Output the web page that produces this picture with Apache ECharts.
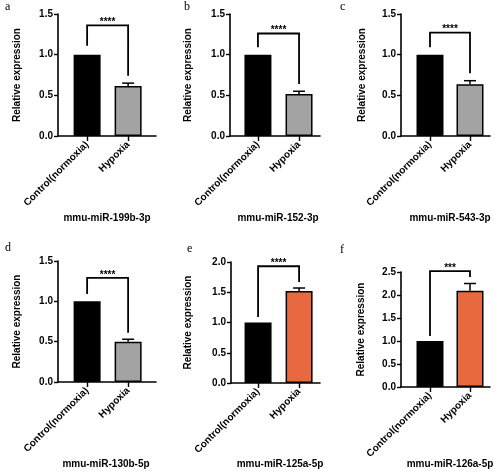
<!DOCTYPE html>
<html>
<head>
<meta charset="utf-8">
<script src="https://cdn.jsdelivr.net/npm/echarts@6/dist/echarts.min.js"></script>
<style>
html,body{margin:0;padding:0;background:#fff;}
#chart{width:500px;height:473px;}
</style>
</head>
<body>
<div id="chart"></div>
<script>
// ---- data ----
const panelLetters = ['a', 'b', 'c', 'd', 'e', 'f'];
const genes = ['mmu-miR-199b-3p', 'mmu-miR-152-3p', 'mmu-miR-543-3p', 'mmu-miR-130b-5p', 'mmu-miR-125a-5p', 'mmu-miR-126a-5p'];
const categories = ['Control(normoxia)', 'Hypoxia'];
const controlValues = [1, 1, 1, 1, 1, 1];
const hypoxiaValues = [0.615, 0.515, 0.635, 0.50, 1.52, 2.09];
const hypoxiaErrors = [0.035, 0.035, 0.045, 0.03, 0.05, 0.16];
const yMax = [1.5, 1.5, 1.5, 1.5, 2.0, 2.5];
const yInterval = [0.5, 0.5, 0.5, 0.5, 0.5, 0.5];
const significance = ['****', '****', '****', '****', '****', '***'];
const bracketTop = [1.36, 1.26, 1.27, 1.29, 1.93, 2.52];
const bracketLeftBase = [1.11, 1.09, 1.09, 1.09, 1.09, 1.11];
const bracketRightBase = [0.74, 0.64, 0.77, 0.61, 1.67, 2.39];
const hypoxiaColors = ['#a3a3a3', '#a3a3a3', '#a3a3a3', '#a3a3a3', '#e8693f', '#e8693f'];

// ---- layout (pixels / axis extents) ----
const layout = [
  {left: 58,  width: 98, top: 14,  height: 122, xMin: -0.71, xMax: 1.68, nameGap: 36, letterX: 5,   letterY: 1,   titleX: 107, titleY: 213},
  {left: 230, width: 90, top: 14,  height: 122, xMin: -0.68, xMax: 1.51, nameGap: 37, letterX: 184, letterY: 1,   titleX: 278, titleY: 213},
  {left: 401, width: 89, top: 14,  height: 122, xMin: -0.725, xMax: 1.5, nameGap: 34, letterX: 340, letterY: 1,   titleX: 450, titleY: 213},
  {left: 58,  width: 98, top: 261, height: 121, xMin: -0.71, xMax: 1.68, nameGap: 36, letterX: 5,   letterY: 242, titleX: 106, titleY: 459},
  {left: 231, width: 89, top: 262, height: 121, xMin: -0.66, xMax: 1.51, nameGap: 38, letterX: 187, letterY: 243, titleX: 280, titleY: 459},
  {left: 401, width: 89, top: 272, height: 115, xMin: -0.725, xMax: 1.5, nameGap: 35, letterX: 340, letterY: 244, titleX: 450, titleY: 459}
];

const FONT = '"Liberation Sans", Arial, sans-serif';
const grids = [], xAxes = [], yAxes = [], series = [], titles = [];

layout.forEach((L, i) => {
  grids.push({left: L.left, top: L.top, width: L.width, height: L.height, containLabel: false});
  xAxes.push({
    type: 'value', gridIndex: i, min: L.xMin, max: L.xMax,
    splitLine: {show: false},
    axisLine: {show: true, lineStyle: {color: '#000', width: 1.6}},
    axisTick: {show: true, customValues: [0, 1], length: 5, lineStyle: {color: '#000', width: 1.4}},
    axisLabel: {
      customValues: [0, 1], rotate: 45, margin: 7,
      formatter: v => categories[Math.round(v)],
      color: '#000', fontWeight: 'bold', fontSize: 10, fontFamily: FONT
    }
  });
  yAxes.push({
    type: 'value', gridIndex: i, min: 0, max: yMax[i], interval: yInterval[i],
    name: 'Relative expression', nameLocation: 'middle', nameGap: L.nameGap,
    nameTextStyle: {color: '#000', fontWeight: 'bold', fontSize: 10, fontFamily: FONT},
    splitLine: {show: false},
    axisLine: {show: true, onZero: false, lineStyle: {color: '#000', width: 1.6}},
    axisTick: {show: true, length: 4, lineStyle: {color: '#000', width: 1.4}},
    axisLabel: {
      margin: 5, color: '#000', fontWeight: 'bold', fontSize: 10, fontFamily: FONT,
      formatter: v => v.toFixed(1)
    }
  });
  series.push({
    type: 'bar', xAxisIndex: i, yAxisIndex: i, barWidth: 27, silent: true,
    itemStyle: {borderColor: '#000', borderWidth: 1.5},
    data: [
      {value: [0, controlValues[i]], itemStyle: {color: '#000'}},
      {value: [1, hypoxiaValues[i]], itemStyle: {color: hypoxiaColors[i]}}
    ]
  });
  // error bar (upper only)
  series.push({
    type: 'custom', xAxisIndex: i, yAxisIndex: i, silent: true, z: 3,
    data: [[1, hypoxiaValues[i], hypoxiaErrors[i]]],
    renderItem: (params, api) => {
      const x = api.value(0), v = api.value(1), e = api.value(2);
      const p0 = api.coord([x, v]);
      const p1 = api.coord([x, v + e]);
      const cap = 6;
      return {
        type: 'group',
        children: [
          {type: 'line', shape: {x1: p0[0], y1: p0[1], x2: p1[0], y2: p1[1]}, style: {stroke: '#000', lineWidth: 1.5}},
          {type: 'line', shape: {x1: p1[0] - cap, y1: p1[1], x2: p1[0] + cap, y2: p1[1]}, style: {stroke: '#000', lineWidth: 1.5}}
        ]
      };
    }
  });
  // significance bracket
  series.push({
    type: 'custom', xAxisIndex: i, yAxisIndex: i, silent: true, clip: false, z: 4,
    data: [[bracketLeftBase[i], bracketTop[i], bracketRightBase[i]]],
    renderItem: (params, api) => {
      const lb = api.value(0), top = api.value(1), rb = api.value(2);
      const a = api.coord([0, lb]);
      const b = api.coord([0, top]);
      const c = api.coord([1, top]);
      const d = api.coord([1, rb]);
      return {
        type: 'group',
        children: [
          {type: 'polyline', shape: {points: [a, b, c, d]}, style: {stroke: '#000', lineWidth: 1.8, fill: null}},
          {type: 'text', x: (b[0] + c[0]) / 2, y: b[1] + 2,
           style: {text: significance[i], textAlign: 'center', textVerticalAlign: 'bottom',
                   fill: '#000', font: 'bold 10px ' + FONT}}
        ]
      };
    }
  });
  titles.push({
    text: genes[i], left: L.titleX, top: L.titleY, textAlign: 'center', padding: 0,
    textStyle: {color: '#000', fontWeight: 'bold', fontSize: 10, fontFamily: FONT}
  });
  titles.push({
    text: panelLetters[i], left: L.letterX, top: L.letterY, padding: 0,
    textStyle: {color: '#000', fontWeight: 'normal', fontSize: 12, fontFamily: '"Liberation Serif", "DejaVu Serif", serif'}
  });
});

const chart = echarts.init(document.getElementById('chart'), null, {renderer: 'canvas'});
chart.setOption({
  animation: false,
  backgroundColor: '#fff',
  title: titles,
  grid: grids,
  xAxis: xAxes,
  yAxis: yAxes,
  series: series
});
</script>
</body>
</html>
